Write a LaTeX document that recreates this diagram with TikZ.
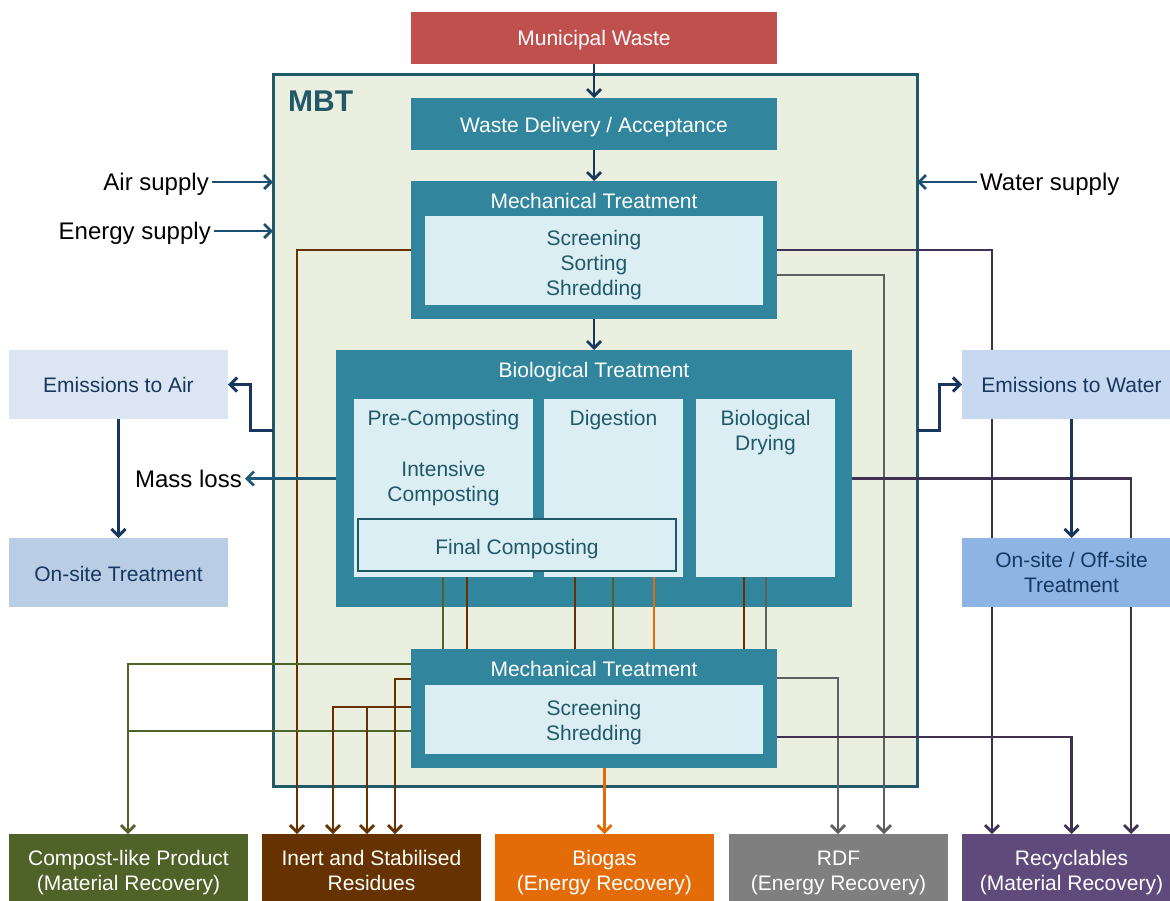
\documentclass[tikz,border=0pt]{standalone}
\usepackage{fontspec}
\setmainfont{Liberation Sans}
\usetikzlibrary{arrows.meta}
\definecolor{cRed}{HTML}{C0504D}
\definecolor{cMBTbg}{HTML}{EBEFDF}
\definecolor{cMBT}{HTML}{215968}
\definecolor{cTeal}{HTML}{31859C}
\definecolor{cLight}{HTML}{DAEEF3}
\definecolor{cNavy}{HTML}{17375E}
\definecolor{cSup}{HTML}{1B4F72}
\definecolor{cEA}{HTML}{DCE6F2}
\definecolor{cOS}{HTML}{B9CDE5}
\definecolor{cEW}{HTML}{C6D9F1}
\definecolor{cOW}{HTML}{8EB4E3}
\definecolor{cGreen}{HTML}{4F6228}
\definecolor{cBrown}{HTML}{663300}
\definecolor{cOrange}{HTML}{E36C09}
\definecolor{cGreyBox}{HTML}{7F7F7F}
\definecolor{cGreyLine}{HTML}{5F5F5F}
\definecolor{cPurpleBox}{HTML}{604A7B}
\definecolor{cPurpleLine}{HTML}{403152}
\pgfdeclarelayer{back}
\pgfdeclarelayer{conn}
\pgfdeclarelayer{front}
\pgfsetlayers{back,conn,main,front}
\tikzset{
  box/.style={inner sep=0pt, outer sep=0pt, anchor=north west},
  tealbox/.style={box, fill=cTeal},
  lightbox/.style={box, fill=cLight},
  txt/.style={inner sep=0pt, align=center, font=\fontsize{21}{25}\selectfont},
  wtxt/.style={txt, text=white},
  dtxt/.style={txt, text=cMBT},
  ntxt/.style={txt, text=cNavy},
  outbox/.style={box, minimum width=219pt, minimum height=72pt},
  sidebox/.style={box, minimum width=219pt, minimum height=69pt},
  sidelbl/.style={inner sep=3pt, font=\fontsize{24}{28}\selectfont},
  tipst/.style={-{Straight Barb[length=7pt,width=14pt]}},
  conn/.style={line width=2.8pt},
  sarrow/.style={line width=2.8pt, draw=cSup, tipst},
  earrow/.style={line width=3pt, draw=cNavy, tipst},
}
\begin{document}
\begin{tikzpicture}[x=1pt,y=-1pt]
\useasboundingbox (0,0) rectangle (1170,900);
\clip (0,0) rectangle (1170,900);

\begin{pgfonlayer}{back}
\node[box, fill=cMBTbg, draw=cMBT, line width=3pt, minimum width=644pt, minimum height=712pt] (mbt) at (273,74) {};
\end{pgfonlayer}
\node[anchor=west, inner sep=0pt, text=cMBT, font=\fontsize{30}{30}\selectfont\bfseries] (mbtl) at (288,101) {MBT};

% top
\node[box, fill=cRed, minimum width=366pt, minimum height=52pt] (mw) at (411,12) {};
\node[wtxt] (mwT) at ([yshift=-2pt]mw.center) {Municipal Waste};
\node[tealbox, minimum width=366pt, minimum height=52pt] (wd) at (411,98) {};
\node[wtxt] (wdT) at ([yshift=-3pt]wd.center) {Waste Delivery / Acceptance};

% mechanical treatment 1
\node[tealbox, minimum width=366pt, minimum height=138pt] (mt1) at (411,181) {};
\node[wtxt] (mt1t) at (594,201) {Mechanical Treatment};
\node[lightbox, minimum width=338pt, minimum height=89pt] (mt1i) at (425,216) {};
\node[dtxt] (mt1iT) at ([yshift=-5pt]mt1i.center) {Screening\\Sorting\\Shredding};

% biological treatment
\node[tealbox, minimum width=516pt, minimum height=257pt] (bio) at (336,350) {};
\node[wtxt] (biot) at (594,372) {Biological Treatment};
\node[lightbox, minimum width=179pt, minimum height=178pt] (pre) at (354,399) {};
\node[lightbox, minimum width=139pt, minimum height=178pt] (dig) at (544,399) {};
\node[lightbox, minimum width=139pt, minimum height=178pt] (dry) at (696,399) {};
\node[dtxt] (pret) at (443.5,420) {Pre-Composting};
\node[dtxt] (intt) at (443.5,483.5) {Intensive\\Composting};
\node[dtxt] (digt) at (613.5,420) {Digestion};
\node[dtxt] (dryt) at (765.5,432.5) {Biological\\Drying};
\node[lightbox, draw=cMBT, line width=1.3pt, minimum width=318pt, minimum height=52pt] (fin) at (358,519) {};
\node[dtxt] (finT) at ([yshift=-4pt]fin.center) {Final Composting};

% mechanical treatment 2
\node[tealbox, minimum width=366pt, minimum height=119pt] (mt2) at (411,649) {};
\node[wtxt] (mt2t) at (594,669) {Mechanical Treatment};
\node[lightbox, minimum width=338pt, minimum height=69pt] (mt2i) at (425,685) {};
\node[dtxt] (mt2iT) at ([yshift=-3pt]mt2i.center) {Screening\\Shredding};

% side boxes
\node[sidebox, fill=cEA] (ea) at (9,350) {};
\node[ntxt] (eaT) at (ea.center) {Emissions to Air};
\node[sidebox, fill=cOS] (os) at (9,538) {};
\node[ntxt] (osT) at ([yshift=-1pt]os.center) {On-site Treatment};
\node[sidebox, fill=cEW] (ew) at (962,350) {};
\node[ntxt] (ewT) at (ew.center) {Emissions to Water};
\node[sidebox, fill=cOW] (ow) at (962,538) {};
\node[ntxt] (owT) at (ow.center) {On-site / Off-site\\Treatment};

% output boxes
\node[outbox, fill=cGreen, minimum width=239pt] (comp) at (9,834) {};
\node[wtxt] (compT) at ([yshift=-3pt]comp.center) {Compost-like Product\\(Material Recovery)};
\node[outbox, fill=cBrown] (inert) at (262,834) {};
\node[wtxt] (inertT) at (inert.center) {Inert and Stabilised\\Residues};
\node[outbox, fill=cOrange] (bg) at (495,834) {};
\node[wtxt] (bgT) at ([yshift=-3pt]bg.center) {Biogas\\(Energy Recovery)};
\node[outbox, fill=cGreyBox] (rdf) at (729,834) {};
\node[wtxt] (rdfT) at ([yshift=-3pt]rdf.center) {RDF\\(Energy Recovery)};
\node[outbox, fill=cPurpleBox] (rec) at (962,834) {};
\node[wtxt] (recT) at ([yshift=-3pt]rec.center) {Recyclables\\(Material Recovery)};

% labels
\node[sidelbl, anchor=east] (air) at (212,184) {Air supply};
\node[sidelbl, anchor=east] (en) at (214,233) {Energy supply};
\node[sidelbl, anchor=west] (wat) at (977,184) {Water supply};
\node[sidelbl, anchor=east] (ml) at (245,478.5) {Mass loss};

% main flow arrows
\draw[sarrow, draw=cNavy] (mw) -- (wd);
\draw[sarrow, draw=cNavy] (wd) -- (mt1);
\draw[sarrow, draw=cNavy] (mt1) -- (bio);

% supply arrows
\draw[sarrow] ([yshift=2pt]air.east) -- ([yshift=2pt]air.east -| mbt.west);
\draw[sarrow] ([yshift=2pt]en.east) -- ([yshift=2pt]en.east -| mbt.west);
\draw[sarrow] ([yshift=2pt]wat.west) -- ([yshift=2pt]wat.west -| mbt.east);

% emissions
\coordinate (ea0) at (273,430);
\coordinate (ew0) at (917,430);
\draw[earrow] (ea0) -- ++(-23,0) |- (ea.east);
\draw[earrow] (ew0) -- ++(22,0) |- (ew.west);
\draw[earrow] (ea.south) -- (os.north);
\draw[earrow] (ew.south) -- (ow.north);
\draw[sarrow, draw=cSup!80!cTeal] (bio.west) -- (ml.east);

% connectors behind boxes
\begin{pgfonlayer}{conn}
\draw[conn, draw=cBrown, tipst] (mt1.west) -| ([xshift=35pt]inert.north west);
\draw[conn, draw=cPurpleLine, tipst] (mt1.east) -| ([xshift=30pt]rec.north west);
\draw[conn, draw=cGreyLine, tipst] ([yshift=-25pt]mt1.east) -| ([xshift=155pt]rdf.north west);
\draw[conn, draw=cPurpleLine, tipst] (bio.east) -| ([xshift=169pt]rec.north west);
% from mechanical treatment 2
\coordinate (gj) at ([xshift=119pt]comp.north west);
\coordinate (g2) at ([yshift=-82pt]mt2.north west);
\draw[conn, draw=cGreen, tipst] ([yshift=-15pt]mt2.north west) -| (gj);
\draw[conn, draw=cGreen] (g2) -- (g2 -| gj);
\draw[conn, draw=cBrown, tipst] ([yshift=-30pt]mt2.north west) -| ([xshift=133pt]inert.north west);
\coordinate (b3) at ([yshift=-58pt]mt2.north west);
\coordinate (bj) at ([xshift=105pt]inert.north west);
\draw[conn, draw=cBrown, tipst] (b3) -| ([xshift=71pt]inert.north west);
\draw[conn, draw=cBrown, tipst] (b3 -| bj) -- (bj);
\draw[conn, draw=cOrange, tipst] (mt2.south -| bg.north) -- (bg.north);
\draw[conn, draw=cGreyLine, tipst] ([yshift=-29pt]mt2.north east) -| ([xshift=109pt]rdf.north west);
\draw[conn, draw=cPurpleLine, tipst] ([yshift=-88pt]mt2.north east) -| (rec.north);
\end{pgfonlayer}

% lines from biological treatment to mechanical treatment 2
\begin{pgfonlayer}{front}
\draw[conn, draw=cGreen] ([xshift=89pt]pre.south west) -- ([xshift=89pt]pre.south west |- mt2.north);
\draw[conn, draw=cBrown] ([xshift=113pt]pre.south west) -- ([xshift=113pt]pre.south west |- mt2.north);
\draw[conn, draw=cBrown] ([xshift=31pt]dig.south west) -- ([xshift=31pt]dig.south west |- mt2.north);
\draw[conn, draw=cGreen] ([xshift=69pt]dig.south west) -- ([xshift=69pt]dig.south west |- mt2.north);
\draw[conn, draw=cOrange] ([xshift=110pt]dig.south west) -- ([xshift=110pt]dig.south west |- mt2.north);
\draw[conn, draw=cBrown] ([xshift=48pt]dry.south west) -- ([xshift=48pt]dry.south west |- mt2.north);
\draw[conn, draw=cGreyLine] ([xshift=70pt]dry.south west) -- ([xshift=70pt]dry.south west |- mt2.north);
\end{pgfonlayer}
\end{tikzpicture}
\end{document}
